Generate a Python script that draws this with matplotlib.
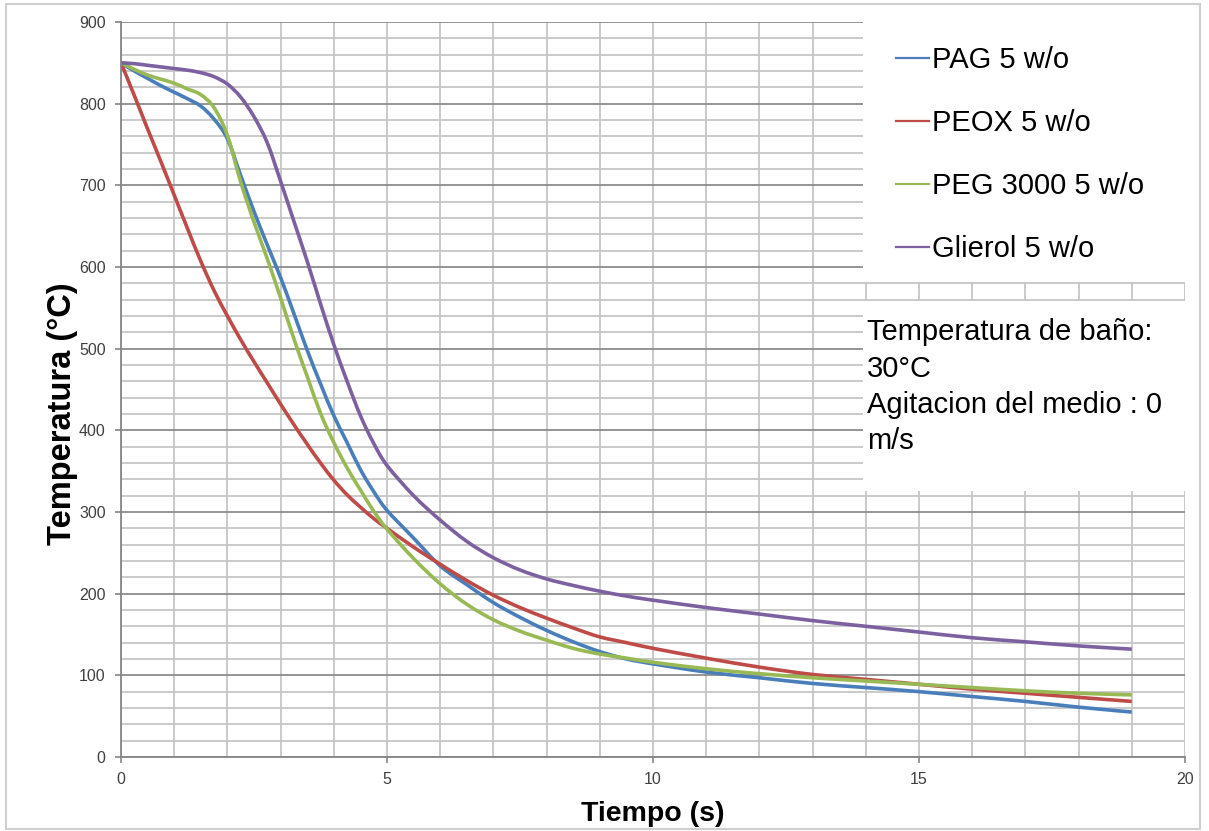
import matplotlib
matplotlib.use("Agg")
import matplotlib.pyplot as plt
from matplotlib.ticker import MultipleLocator
from matplotlib.patches import Rectangle, PathPatch
from matplotlib.path import Path
from matplotlib.lines import Line2D

plt.rcParams['font.family'] = ['Liberation Sans', 'DejaVu Sans']

# tiempo (s) y temperaturas
tiempo = [0, 0.25, 0.5, 0.75, 1, 1.25, 1.5, 1.75, 2, 2.25, 2.5, 2.75, 3, 3.25,
          3.5, 3.75, 4, 4.25, 4.5, 4.75, 5, 5.5, 6, 6.5, 7, 7.5, 8, 8.5, 9,
          9.5, 10, 11, 12, 13, 14, 15, 16, 17, 18, 19]

pag = [850, 840, 831, 822, 814, 806, 797, 781, 757, 712, 668, 627, 587, 543,
       498, 457, 418, 385, 352, 325, 302, 268, 234, 211, 189, 171, 155, 141,
       129, 120, 114, 104, 97, 90, 85, 80, 74, 68, 61, 55]

peox = [850, 810, 769, 729, 688, 647, 607, 571, 540, 511, 484, 458, 432, 407,
        383, 360, 339, 321, 306, 292, 280, 257, 236, 216, 198, 183, 170, 158,
        147, 140, 133, 121, 110, 101, 95, 89, 83, 78, 73, 68]

peg = [850, 842, 835, 830, 825, 818, 811, 795, 761, 704, 655, 610, 562, 512,
       466, 421, 385, 354, 327, 301, 279, 243, 212, 187, 168, 154, 143, 133,
       126, 121, 116, 108, 102, 97, 93, 89, 85, 81, 78, 76]

glicerol = [850, 849, 847, 845, 843, 841, 838, 833, 824, 808, 784, 752, 705,
            656, 607, 555, 505, 460, 418, 384, 357, 320, 290, 264, 244, 229,
            218, 210, 203, 197, 192, 183, 175, 167, 160, 153, 146, 141, 136,
            132]

series = [
    ("PAG 5 w/o", pag, "#4a7ebb"),
    ("PEOX 5 w/o", peox, "#be4b48"),
    ("PEG 3000 5 w/o", peg, "#98b954"),
    ("Glierol 5 w/o", glicerol, "#7d60a0"),
]


def linea_suave(x, y):
    # trazo suavizado tipo Excel (Bezier entre los puntos medidos)
    pts = list(zip(x, y))
    verts = [pts[0]]
    codes = [Path.MOVETO]
    n = len(pts)
    for i in range(n - 1):
        p0 = pts[max(i - 1, 0)]
        p1 = pts[i]
        p2 = pts[i + 1]
        p3 = pts[min(i + 2, n - 1)]
        c1 = (p1[0] + (p2[0] - p0[0]) / 6, p1[1] + (p2[1] - p0[1]) / 6)
        c2 = (p2[0] - (p3[0] - p1[0]) / 6, p2[1] - (p3[1] - p1[1]) / 6)
        verts += [c1, c2, p2]
        codes += [Path.CURVE4] * 3
    return Path(verts, codes)


fig = plt.figure(figsize=(12.09, 8.31), dpi=100)
ax = fig.add_axes([0.1001, 0.0891, 0.88, 0.8844])

handles = []
for nombre, valores, color in series:
    ax.add_patch(PathPatch(linea_suave(tiempo, valores), fill=False,
                           edgecolor=color, lw=2.6, zorder=2,
                           capstyle='butt'))
    handles.append(Line2D([], [], color=color, lw=1.6, label=nombre))

ax.set_xlim(0, 20)
ax.set_ylim(0, 900)
ax.xaxis.set_major_locator(MultipleLocator(5))
ax.xaxis.set_minor_locator(MultipleLocator(1))
ax.yaxis.set_major_locator(MultipleLocator(100))
ax.yaxis.set_minor_locator(MultipleLocator(20))

ax.set_axisbelow(True)
ax.grid(which='major', axis='y', color='#8c8c8c', lw=1.3)
ax.grid(which='minor', axis='y', color='#c6c6c6', lw=1.3)
ax.grid(which='both', axis='x', color='#c6c6c6', lw=1.3)

for s in ['top', 'right']:
    ax.spines[s].set_visible(False)
for s in ['left', 'bottom']:
    ax.spines[s].set_color('#868686')
    ax.spines[s].set_linewidth(1.3)

ax.tick_params(which='major', length=4, width=1.2, color='#868686',
               labelsize=11.5, labelcolor='#404040', pad=7)
ax.tick_params(which='minor', length=0)

ax.set_xlabel("Tiempo (s)", fontsize=20.5, fontweight='bold', labelpad=10)
ax.set_ylabel("Temperatura (°C)", fontsize=23.5, fontweight='bold')
ax.yaxis.set_label_coords(-0.040, 0.467)

# cuadro de leyenda y cuadro de condiciones
ax.add_patch(Rectangle((0.697, 0.646), 0.303, 0.354, transform=ax.transAxes,
                       facecolor='white', edgecolor='none', zorder=3))
ax.add_patch(Rectangle((0.697, 0.362), 0.303, 0.258, transform=ax.transAxes,
                       facecolor='white', edgecolor='none', zorder=3))

leg = ax.legend(handles=handles, loc='upper left',
                bbox_to_anchor=(0.728, 0.967), frameon=False,
                fontsize=21, handlelength=1.15, handletextpad=0.1,
                labelspacing=1.2, borderpad=0, borderaxespad=0)
leg.set_zorder(5)

ax.text(0.7015, 0.597,
        "Temperatura de baño:\n30°C\nAgitacion del medio : 0\nm/s",
        transform=ax.transAxes, fontsize=21, va='top', ha='left',
        linespacing=1.38, zorder=4)

# marco exterior
fig.patches.append(Rectangle((6 / 1209, 2 / 831), 1194 / 1209, 825 / 831,
                             transform=fig.transFigure, fill=False,
                             edgecolor='#cfcfcf', lw=1.5))

fig.savefig("out.png", dpi=100)
